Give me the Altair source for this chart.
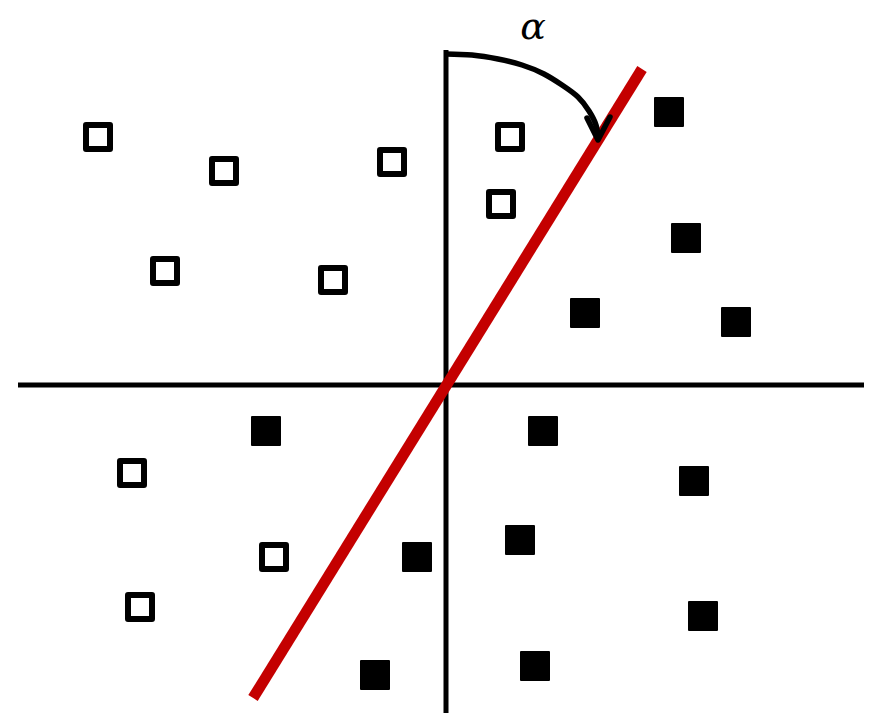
import altair as alt
import pandas as pd

# Coordinates relative to the crossing point of the two axes (x right, y up)
hollow_x = [-348, -222, -54, 64, 55, -281, -113, -314, -172, -306]
hollow_y = [248, 214, 223, 248, 181, 114, 105, -88, -172, -222]

filled_x = [223, 240, 139, 290, -180, 97, 248, -29, 74, 257, -71, 89]
filled_y = [273, 147, 72, 63, -46, -46, -96, -172, -155, -231, -290, -281]

# axis segments: x, y, x2, y2
axis_x1 = [-428, 0]
axis_y1 = [0, 335]
axis_x2 = [420, 0]
axis_y2 = [0, -340]

# separating (red) line
sep_x1, sep_y1, sep_x2, sep_y2 = [-193], [-313], [196], [316]

# rotation arc and arrow head
arc_x = [0, 26, 52, 76, 98, 116, 132, 143, 150, 152]
arc_y = [331, 330, 326, 320, 311, 300, 288, 274, 260, 247]
head_x = [141, 152, 164]
head_y = [267, 245, 268]

label_text = ["α"]
label_x = [87]
label_y = [346]

xs = alt.Scale(domain=[-438, 418], nice=False, zero=False)
ys = alt.Scale(domain=[-328, 377], nice=False, zero=False)

def X(f="x"):
    return alt.X(f"{f}:Q", scale=xs, axis=None)

def Y(f="y"):
    return alt.Y(f"{f}:Q", scale=ys, axis=None)

axes_df = pd.DataFrame({"x": axis_x1, "y": axis_y1, "x2": axis_x2, "y2": axis_y2})
axes = alt.Chart(axes_df).mark_rule(color="black", strokeWidth=5, strokeCap="butt").encode(
    x=X(), y=Y(), x2="x2:Q", y2="y2:Q")

sep_df = pd.DataFrame({"x": sep_x1, "y": sep_y1, "x2": sep_x2, "y2": sep_y2})
sep = alt.Chart(sep_df).mark_rule(color="#c40000", strokeWidth=11, strokeCap="butt").encode(
    x=X(), y=Y(), x2="x2:Q", y2="y2:Q")

arc_df = pd.DataFrame({"x": arc_x, "y": arc_y, "o": list(range(len(arc_x)))})
arc = alt.Chart(arc_df).mark_line(color="black", strokeWidth=5.5, interpolate="natural",
                                  strokeCap="butt").encode(
    x=X(), y=Y(), order="o:Q")

head_df = pd.DataFrame({"x": head_x, "y": head_y, "o": [0, 1, 2]})
head = alt.Chart(head_df).mark_line(color="black", strokeWidth=5.5, strokeCap="round",
                                    strokeJoin="round").encode(
    x=X(), y=Y(), order="o:Q")

hollow_df = pd.DataFrame({"x": hollow_x, "y": hollow_y})
hollow = alt.Chart(hollow_df).mark_square(filled=False, color="black", size=576, strokeWidth=6,
                                          opacity=1, strokeJoin="round").encode(x=X(), y=Y())

filled_df = pd.DataFrame({"x": filled_x, "y": filled_y})
filled = alt.Chart(filled_df).mark_square(filled=True, fill="black", stroke="black", size=784,
                                          strokeWidth=2, opacity=1, strokeJoin="round").encode(
    x=X(), y=Y())

label_df = pd.DataFrame({"x": label_x, "y": label_y, "t": label_text})
label = alt.Chart(label_df).mark_text(font="DejaVu Serif", fontStyle="italic", fontSize=38,
                                      color="black", align="center", baseline="alphabetic").encode(
    x=X(), y=Y(), text="t:N")

chart = alt.layer(axes, sep, arc, head, hollow, filled, label).properties(
    width=856, height=705, padding=0, autosize=alt.AutoSizeParams(type="none"),
    background="white"
).configure_view(stroke=None)

chart.save("out.html", embed_options={"renderer": "svg", "actions": False})
